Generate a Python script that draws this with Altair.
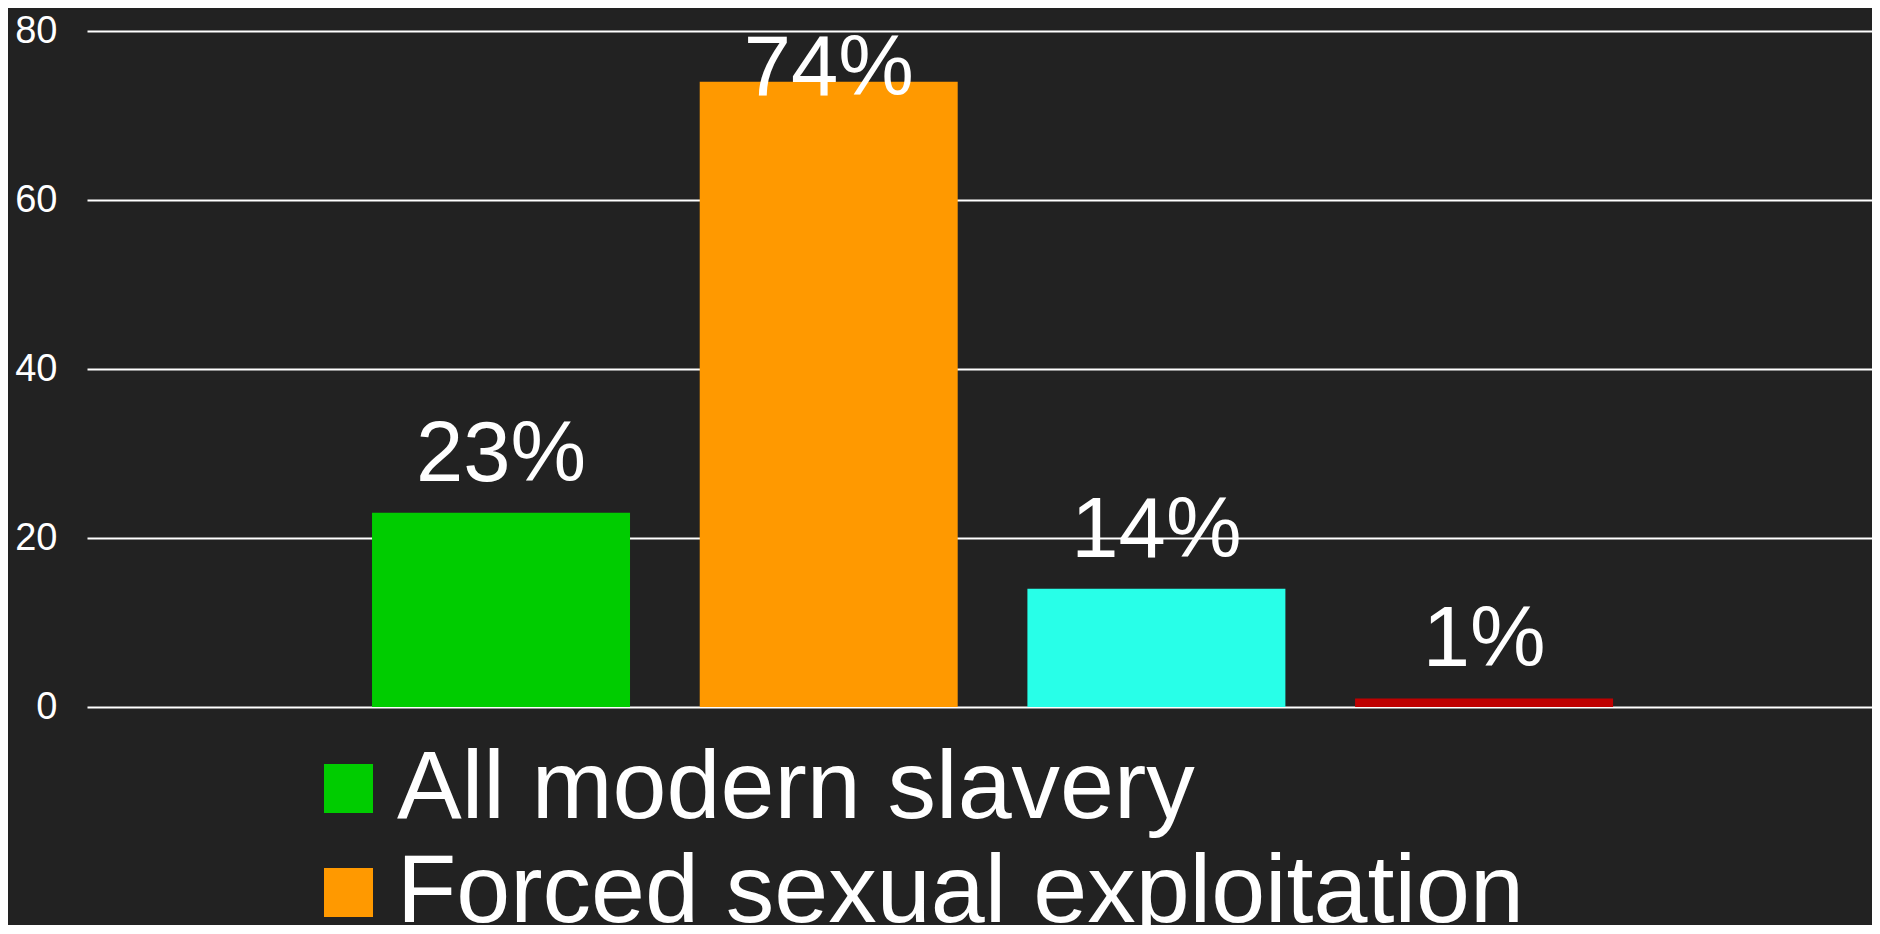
import altair as alt
import pandas as pd

categories = [
    "All modern slavery",
    "Forced sexual exploitation",
    "Forced labour exploitation",
    "State-imposed forced labour",
]
values = [23, 74, 14, 1]
labels = ["23%", "74%", "14%", "1%"]
colors = ["#00CC00", "#FF9900", "#28FFE8", "#BE0000"]
y_ticks = [0, 20, 40, 60, 80]

df = pd.DataFrame({"category": categories, "value": values, "label": labels})

FONT = "Liberation Sans, Arial, Helvetica, sans-serif"
BG = "#222222"

x_enc = alt.X(
    "category:N",
    sort=categories,
    axis=None,
    scale=alt.Scale(paddingInner=0.2127, paddingOuter=0.830, align=0.524),
)

bars = alt.Chart(df).mark_bar().encode(
    x=x_enc,
    y=alt.Y(
        "value:Q",
        scale=alt.Scale(domain=[0, 80], nice=False),
        axis=alt.Axis(
            values=y_ticks,
            title=None,
            domain=False,
            ticks=False,
            grid=True,
            gridColor="#FFFFFF",
            gridWidth=2,
            gridOpacity=1,
            labelColor="#FFFFFF",
            labelFont=FONT,
            labelFontSize=38,
            labelPadding=30,
        ),
    ),
    color=alt.Color(
        "category:N",
        sort=categories,
        scale=alt.Scale(domain=categories, range=colors),
        legend=alt.Legend(
            title=None,
            orient="none",
            legendX=213,
            legendY=709,
            direction="vertical",
            symbolType="square",
            symbolSize=2401,
            symbolStrokeWidth=0,
            symbolOpacity=1,
            labelFont=FONT,
            labelFontSize=97,
            labelColor="#FFFFFF",
            labelOffset=0,
            labelLimit=2000,
            rowPadding=6,
            padding=0,
        ),
    ),
)

text = (
    alt.Chart(df)
    .transform_calculate(label_y="min(datum.value + 3.8, 72.4)")
    .mark_text(
        font=FONT,
        fontSize=85,
        color="#FFFFFF",
        align="center",
        baseline="alphabetic",
    )
    .encode(
        x=x_enc,
        y=alt.Y("label_y:Q", scale=alt.Scale(domain=[0, 80], nice=False)),
        text="label:N",
    )
)

chart = (
    alt.layer(bars, text)
    .properties(
        width=1785,
        height=676,
        autosize=alt.AutoSizeParams(type="none"),
        padding={"left": 79, "top": 23, "right": 0, "bottom": 218},
        background=BG,
    )
    .configure_view(stroke=None)
)

chart.save("out.html", embed_options={"renderer": "svg", "actions": False})
